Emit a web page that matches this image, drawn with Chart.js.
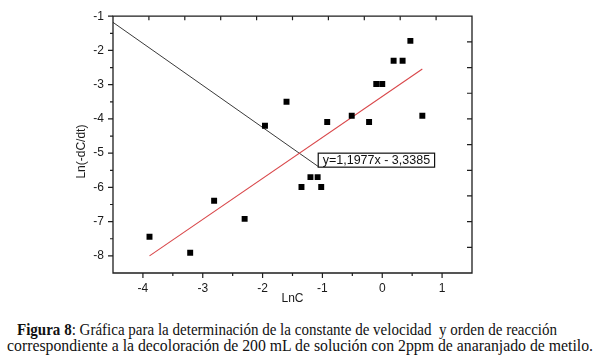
<!DOCTYPE html>
<html>
<head>
<meta charset="utf-8">
<script src="https://cdn.jsdelivr.net/npm/chart.js@4.4.1/dist/chart.umd.min.js"></script>
<style>
  html, body { margin: 0; padding: 0; background: #fff; }
  #wrap { position: relative; width: 597px; height: 362px; overflow: hidden; }
  #chartBox { position: absolute; left: 0; top: 0; width: 597px; height: 310px; }
  .cap { position: absolute; font-family: "Liberation Serif", "Times New Roman", serif; font-size: 16px; color: #111; white-space: pre; line-height: 16px; transform-origin: 0 0; }
</style>
</head>
<body>
<div id="wrap">
  <div id="chartBox"><canvas id="c"></canvas></div>
  <div class="cap" id="cap1" style="left:17px; top:322px;"><b>Figura 8</b>: Gráfica para la determinación de la constante de velocidad  y orden de reacción</div>
  <div class="cap" id="cap2" style="left:7px; top:338px;">correspondiente a la decoloración de 200 mL de solución con 2ppm de anaranjado de metilo.</div>
</div>
<script>
// ---- data ----
const lnC    = [-3.89, -3.21, -2.81, -2.30, -1.96, -1.60, -1.35, -1.20, -1.08, -1.02, -0.92, -0.51, -0.22, -0.10, 0.00, 0.19, 0.34, 0.47, 0.67];
const lnRate = [-7.44, -7.91, -6.39, -6.92, -4.20, -3.50, -5.99, -5.70, -5.70, -5.99, -4.09, -3.91, -4.09, -2.98, -2.98, -2.30, -2.30, -1.72, -3.91];
const fitX   = [-3.89, 0.67];
const fitY   = [-8.00, -2.54];
const leaderX = [-4.5, -1.07];
const leaderY = [-1.18, -5.39];
const xTickVals = [-4, -3, -2, -1, 0, 1];
const yTickVals = [-8, -7, -6, -5, -4, -3, -2, -1];
const fitLabel = 'y=1,1977x - 3,3385';
const labelX = -1.07, labelY = -5.0;          // top-left corner of the label box (data units)
const xTitle = 'LnC';
const yTitle = 'Ln(-dC/dt)';

const toPts = (xs, ys) => xs.map((v, i) => ({ x: v, y: ys[i] }));

const framePlugin = {
  id: 'frame',
  afterDraw(chart) {
    const ctx = chart.ctx;
    const x = chart.scales.x, y = chart.scales.y;
    const left = x.left, right = x.right, top = y.top, bottom = y.bottom;
    ctx.save();
    ctx.setLineDash([]);
    ctx.globalAlpha = 1;
    ctx.strokeStyle = '#1e1e1e';
    ctx.lineWidth = 1.3;
    ctx.beginPath();
    ctx.moveTo(left, top); ctx.lineTo(right, top); ctx.lineTo(right, bottom); ctx.lineTo(left, bottom); ctx.closePath();
    ctx.stroke();
    ctx.lineWidth = 1.2;
    ctx.beginPath();
    // bottom ticks (outward): majors + half-step minors
    for (let v = Math.ceil(x.min * 2) / 2; v <= x.max + 1e-9; v += 0.5) {
      const px = x.getPixelForValue(v);
      if (Math.abs(px - left) < 1 || Math.abs(px - right) < 1) continue;
      const len = Math.abs(v - Math.round(v)) < 1e-9 ? 5 : 3;
      ctx.moveTo(px, bottom); ctx.lineTo(px, bottom + len);
    }
    // left ticks (outward)
    for (let v = Math.ceil(y.min * 2) / 2; v <= y.max + 1e-9; v += 0.5) {
      const py = y.getPixelForValue(v);
      if (Math.abs(py - bottom) < 1) continue;
      const len = Math.abs(v - Math.round(v)) < 1e-9 ? 5 : 3;
      ctx.moveTo(left, py); ctx.lineTo(left - len, py);
    }
    // top and right ticks (inward, secondary axes)
    for (let i = 1; i < 10; i++) {
      const px = left + (right - left) * i / 10;
      ctx.moveTo(px, top); ctx.lineTo(px, top + 4);
      const py = top + (bottom - top) * i / 10;
      ctx.moveTo(right, py); ctx.lineTo(right - 5, py);
    }
    ctx.stroke();

    // axis titles
    ctx.fillStyle = '#1a1a1a';
    ctx.font = '12px "Liberation Sans", Arial, sans-serif';
    ctx.textAlign = 'center';
    ctx.textBaseline = 'middle';
    ctx.fillText(xTitle, (left + right) / 2, bottom + 26);
    ctx.save();
    ctx.translate(left - 31, (top + bottom) / 2 + 7);
    ctx.rotate(-Math.PI / 2);
    ctx.fillText(yTitle, 0, 0);
    ctx.restore();

    // fit-equation label box
    const bx = x.getPixelForValue(labelX);
    const by = y.getPixelForValue(labelY);
    ctx.font = '12.5px "Liberation Sans", Arial, sans-serif';
    const w = ctx.measureText(fitLabel).width + 9;
    ctx.fillStyle = '#fff';
    ctx.fillRect(bx, by, w, 14);
    ctx.strokeStyle = '#111';
    ctx.lineWidth = 1.2;
    ctx.strokeRect(bx, by, w, 14);
    ctx.fillStyle = '#111';
    ctx.textAlign = 'left';
    ctx.fillText(fitLabel, bx + 4.5, by + 7.5);
    ctx.restore();
  }
};

const tickFont = { family: '"Liberation Sans", Arial, sans-serif', size: 12 };

new Chart(document.getElementById('c'), {
  type: 'scatter',
  data: {
    datasets: [
      { data: toPts(lnC, lnRate), pointStyle: 'rect', pointRadius: 4.2, pointHoverRadius: 4.2,
        backgroundColor: '#000', borderColor: '#000', borderWidth: 0, showLine: false, order: 1 },
      { data: toPts(fitX, fitY), showLine: true, pointRadius: 0, borderColor: '#d9474a', borderWidth: 1.1, order: 2 },
      { data: toPts(leaderX, leaderY), showLine: true, pointRadius: 0, borderColor: '#3a3a3a', borderWidth: 1, order: 3 }
    ]
  },
  options: {
    responsive: true,
    maintainAspectRatio: false,
    animation: false,
    events: [],
    layout: { padding: { left: 0, top: 13, right: 125, bottom: 0 } },
    plugins: { legend: { display: false }, tooltip: { enabled: false } },
    scales: {
      x: {
        type: 'linear', min: -4.5, max: 1.5,
        grid: { display: false, drawTicks: false }, border: { display: false },
        afterBuildTicks(s) { s.ticks = xTickVals.map(v => ({ value: v })); },
        ticks: { padding: 8, color: '#1a1a1a', font: tickFont },
        afterFit(s) { s.height = 37; }
      },
      y: {
        type: 'linear', min: -8.5, max: -1,
        grid: { display: false, drawTicks: false }, border: { display: false },
        afterBuildTicks(s) { s.ticks = yTickVals.map(v => ({ value: v })); },
        ticks: { padding: 9, color: '#1a1a1a', font: tickFont },
        afterFit(s) { s.width = 113; }
      }
    }
  },
  plugins: [framePlugin]
});

// fit caption lines to the widths they occupy in the reference
function fitCap(id, target) {
  const el = document.getElementById(id);
  const w = el.getBoundingClientRect().width;
  if (w > 0) el.style.transform = 'scaleX(' + (target / w) + ')';
}
fitCap('cap1', 540);
fitCap('cap2', 586);
</script>
</body>
</html>
